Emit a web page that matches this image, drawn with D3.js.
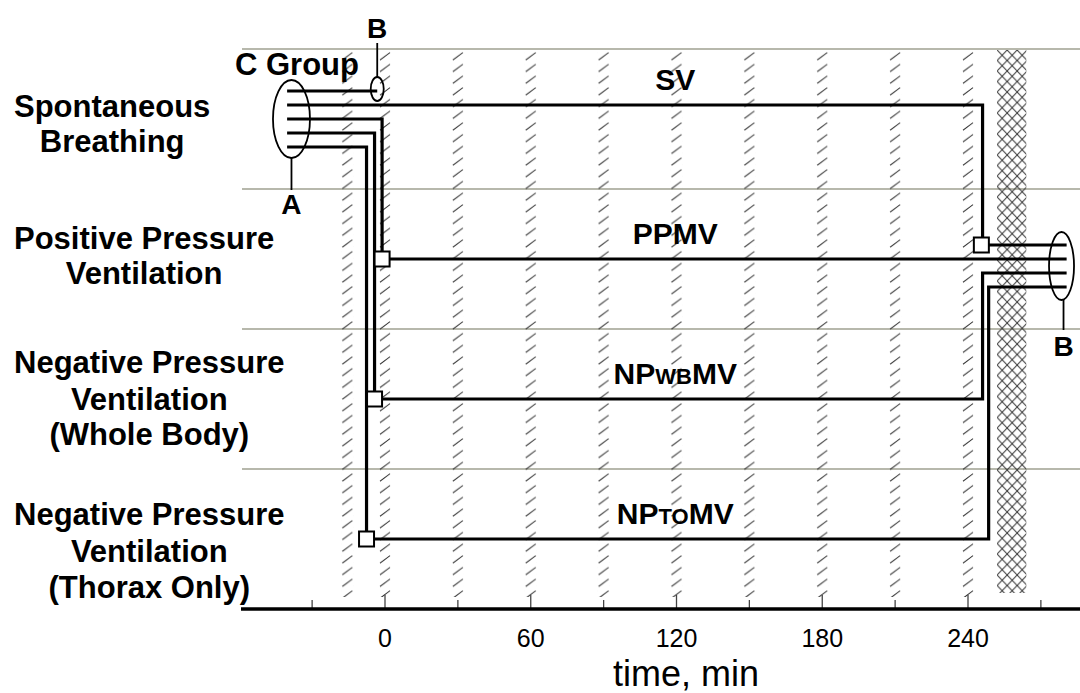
<!DOCTYPE html>
<html><head><meta charset="utf-8">
<script src="https://cdn.jsdelivr.net/npm/d3@7"></script>
<style>
html,body{margin:0;padding:0;background:#fff;}
svg{display:block;font-family:"Liberation Sans",Arial,sans-serif;}
</style></head>
<body>
<script>
// ---------- data ----------
const rowLabels = [
  ["Spontaneous","Breathing"],
  ["Positive Pressure","Ventilation"],
  ["Negative Pressure","Ventilation","(Whole Body)"],
  ["Negative Pressure","Ventilation","(Thorax Only)"]
];
const seriesMain = ["SV","PP","NP","NP"];
const seriesSub  = ["","","WB","TO"];
const seriesTail = ["","MV","MV","MV"];
const seriesLevel = [0.4, 1.5, 2.5, 3.5];        // row units
const leftBundleLevel = [0.4, 0.5, 0.6, 0.7];     // where each line leaves group A
const startTime = [null, -1.2, -4.3, -7.6];       // box (start) times, min
const rightTurnTime = [246, null, 246, 248.5];    // time of turn into group B
const rightBundleLevel = [1.4, 1.5, 1.6, 1.7];
const svBoxTime = 245.5;
const groupATime = -38.5, groupATimeLine = -40.3, groupALevel = 0.5;
const groupBTime = 278.5, groupBTimeLine = 280.6, groupBLevel = 1.55;
const cGroupLevel = 0.3, cGroupBTime = -3.2;
const majorTicks = [0, 60, 120, 180, 240];
const minorTicks = [-30, 30, 90, 150, 210, 270];
const hatchTimes = [-15.5, 0, 30, 60, 90, 120, 150, 180, 210, 240];
const crossBand = [252, 264];
const rowBoundaries = [0, 1, 2, 3];
const labelTime = 119.5;

// ---------- setup ----------
const W = 1080, H = 693;
const x = d3.scaleLinear().domain([0, 240]).range([385, 968]);
const y = d3.scaleLinear().domain([0, 4]).range([49, 609]);
const svg = d3.select("body").append("svg").attr("width", W).attr("height", H);
const defs = svg.append("defs");

const hp = defs.append("pattern").attr("id","hatch").attr("patternUnits","userSpaceOnUse")
  .attr("width",12).attr("height",11.7);
hp.append("line").attr("x1",1).attr("y1",10).attr("x2",11).attr("y2",2.5)
  .attr("stroke","#333").attr("stroke-width",1);

const cp = defs.append("pattern").attr("id","cross").attr("patternUnits","userSpaceOnUse")
  .attr("width",10).attr("height",10.5);
cp.append("line").attr("x1",0).attr("y1",0).attr("x2",10).attr("y2",10.5).attr("stroke","#333").attr("stroke-width",1);
cp.append("line").attr("x1",10).attr("y1",0).attr("x2",0).attr("y2",10.5).attr("stroke","#333").attr("stroke-width",1);

// grey row lines
svg.append("g").selectAll("line").data(rowBoundaries).join("line")
  .attr("x1", 242).attr("x2", W).attr("y1", d=>y(d)).attr("y2", d=>y(d))
  .attr("stroke","#b7b8ac").attr("stroke-width",2);

// hatched bands
const bandTop = y(0)+1, bandBottom = 597;
svg.append("g").selectAll("g").data(hatchTimes).join("g")
  .attr("transform", d=>`translate(${x(d)-6},${bandTop})`)
  .append("rect").attr("width",12).attr("height",bandBottom-bandTop).attr("fill","url(#hatch)");

// cross-hatched band
svg.append("g").attr("transform",`translate(${x(crossBand[0])},${bandTop})`)
  .append("rect").attr("width",x(crossBand[1])-x(crossBand[0])).attr("height",bandBottom-bandTop-4)
  .attr("fill","url(#cross)");

// axis
const axisY = y(4);
const ax = svg.append("g");
ax.selectAll("line.maj").data(majorTicks).join("line").attr("class","maj")
  .attr("x1",d=>x(d)).attr("x2",d=>x(d)).attr("y1",axisY).attr("y2",axisY-14)
  .attr("stroke","#444").attr("stroke-width",1.3);
ax.selectAll("line.min").data(minorTicks).join("line").attr("class","min")
  .attr("x1",d=>x(d)).attr("x2",d=>x(d)).attr("y1",axisY).attr("y2",axisY-9)
  .attr("stroke","#444").attr("stroke-width",1.3);
ax.append("line").attr("x1",241).attr("x2",W).attr("y1",axisY).attr("y2",axisY)
  .attr("stroke","#000").attr("stroke-width",3.5);
ax.selectAll("text").data(majorTicks).join("text")
  .attr("x",d=>x(d)).attr("y",647).attr("text-anchor","middle")
  .attr("font-size",25).text(d=>d);
svg.append("text").attr("x",686).attr("y",686).attr("text-anchor","middle")
  .attr("font-size",36).text("time, min");

// ---------- series lines ----------
const lw = 3.2;
const lines = svg.append("g").attr("fill","none").attr("stroke","#000").attr("stroke-width",lw);
const xA = x(groupATimeLine), xB = x(groupBTimeLine);
seriesLevel.forEach((lev,i)=>{
  let pts;
  if (i === 0) {
    pts = [[xA, y(lev)],[x(rightTurnTime[0]), y(lev)],[x(rightTurnTime[0]), y(rightBundleLevel[0])],[xB, y(rightBundleLevel[0])]];
  } else if (rightTurnTime[i] === null) {
    pts = [[xA, y(leftBundleLevel[i])],[x(startTime[i]), y(leftBundleLevel[i])],[x(startTime[i]), y(lev)],[xB, y(lev)]];
  } else {
    pts = [[xA, y(leftBundleLevel[i])],[x(startTime[i]), y(leftBundleLevel[i])],[x(startTime[i]), y(lev)],
           [x(rightTurnTime[i]), y(lev)],[x(rightTurnTime[i]), y(rightBundleLevel[i])],[xB, y(rightBundleLevel[i])]];
  }
  lines.append("path").attr("d", d3.line()(pts)).attr("stroke-linejoin","miter");
});
// C group line to B
lines.append("path").attr("d", d3.line()([[xA, y(cGroupLevel)],[x(cGroupBTime), y(cGroupLevel)]]));

// boxes
const boxes = [];
startTime.forEach((t,i)=>{ if (t!==null) boxes.push([x(t), y(seriesLevel[i])]); });
boxes.push([x(svBoxTime), y(rightBundleLevel[0])]);
svg.append("g").selectAll("rect").data(boxes).join("rect")
  .attr("x",d=>d[0]-7.5).attr("y",d=>d[1]-7.5).attr("width",15).attr("height",15)
  .attr("fill","#fff").attr("stroke","#000").attr("stroke-width",2);

// ellipses
const ell = svg.append("g").attr("fill","none").attr("stroke","#000").attr("stroke-width",1.8);
ell.append("ellipse").attr("cx",x(groupATime)).attr("cy",y(groupALevel)).attr("rx",18.5).attr("ry",39);
ell.append("ellipse").attr("cx",x(groupBTime)).attr("cy",y(groupBLevel)).attr("rx",12.5).attr("ry",34);
ell.append("ellipse").attr("cx",x(cGroupBTime)).attr("cy",y(cGroupLevel)-2).attr("rx",6.5).attr("ry",12);
// stems
ell.append("line").attr("x1",x(groupATime)).attr("x2",x(groupATime)).attr("y1",y(groupALevel)+39).attr("y2",190);
ell.append("line").attr("x1",x(groupBTime)+2).attr("x2",x(groupBTime)+2).attr("y1",y(groupBLevel)+34).attr("y2",330);
ell.append("line").attr("x1",x(cGroupBTime)).attr("x2",x(cGroupBTime)).attr("y1",y(cGroupLevel)-14).attr("y2",43);

// letters
function t(xp, yp, s, fs, anchor){
  return svg.append("text").attr("x",xp).attr("y",yp).attr("font-size",fs).attr("font-weight","bold")
    .attr("text-anchor",anchor||"middle").text(s);
}
t(x(groupATime), 214, "A", 28);
t(x(groupBTime)+2, 356, "B", 28);
t(x(cGroupBTime), 38, "B", 28);
t(235, 75, "C Group", 31, "start");

// series labels
seriesMain.forEach((m,i)=>{
  const tx = svg.append("text").attr("x",x(labelTime)).attr("y",y(seriesLevel[i])-15)
    .attr("text-anchor","middle").attr("font-size",30).attr("font-weight","bold");
  tx.append("tspan").text(m);
  if (seriesSub[i]) tx.append("tspan").attr("font-size",22).text(seriesSub[i]);
  if (seriesTail[i]) tx.append("tspan").text(seriesTail[i]);
});

// row labels
const rowBaselines = [[117,152],[249,284],[373,410,445],[525,562,598]];
rowLabels.forEach((lbls,i)=>{
  const g = svg.append("g");
  const texts = lbls.map((s,j)=> g.append("text").attr("y",rowBaselines[i][j]).attr("font-size",31)
    .attr("font-weight","bold").attr("text-anchor","middle").text(s));
  const maxW = d3.max(texts, tt=>tt.node().getComputedTextLength());
  texts.forEach(tt=>tt.attr("x", 14 + maxW/2));
});
</script>
</body></html>
